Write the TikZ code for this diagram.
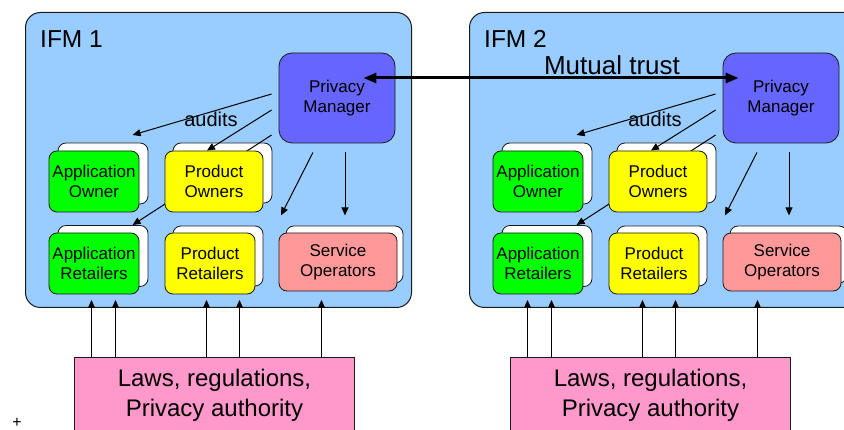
\documentclass[tikz,border=0pt]{standalone}
\usepackage{fontspec}
\setmainfont{Liberation Sans}
\usetikzlibrary{arrows.meta}
\definecolor{ifmblue}{HTML}{99CCFF}
\definecolor{pmblue}{HTML}{6666FF}
\definecolor{grn}{HTML}{00FF00}
\definecolor{ylw}{HTML}{FFFF00}
\definecolor{salmon}{HTML}{FF9999}
\definecolor{lawpink}{HTML}{FF99CC}
\definecolor{edge}{HTML}{1A1A1A}
\pgfdeclarelayer{ifmlayer}
\pgfdeclarelayer{backlayer}
\pgfdeclarelayer{frontlayer}
\pgfdeclarelayer{toplayer}
\pgfsetlayers{ifmlayer,backlayer,main,frontlayer,toplayer}
\tikzset{
  ifmbox/.style={draw=edge, line width=1pt, fill=ifmblue, rounded corners=15pt, inner sep=0pt},
  card/.style={draw=edge, line width=0.8pt, rounded corners=8pt, align=center, inner sep=0pt,
    font=\fontsize{17}{19.5}\selectfont},
  backcard/.style={card, fill=white},
  pmbox/.style={card, fill=pmblue, rounded corners=13pt},
  lawbox/.style={draw=edge, line width=1pt, fill=lawpink, align=center, inner sep=0pt,
    font=\fontsize{24}{29.5}\selectfont},
  arr/.style={draw=black, line width=1pt, -{Triangle[length=8pt,width=7pt]}},
  trustarr/.style={draw=black, line width=3pt, {Triangle[length=13pt,width=10pt]}-{Triangle[length=13pt,width=10pt]}},
  biglabel/.style={inner sep=0pt, font=\fontsize{24.5}{28}\selectfont},
  auditlabel/.style={inner sep=0pt, font=\fontsize{20}{24}\selectfont},
}
\begin{document}
\begin{tikzpicture}[x=1pt, y=-1pt]
\useasboundingbox (0,0) rectangle (844,430);
\begin{pgfonlayer}{ifmlayer}
  \fill[white] (0,0) rectangle (844,430);
\end{pgfonlayer}
\foreach \i/\dx/\w in {1/0/386, 2/444/420}{
\begin{scope}[xshift=\dx]
  \begin{pgfonlayer}{ifmlayer}
    \node[ifmbox, minimum width=\w, minimum height=295, anchor=north west] (ifm\i) at (25,12) {};
    \node[biglabel, anchor=base west] (ifml\i) at (40,48) {IFM \i};
  \end{pgfonlayer}
  \begin{pgfonlayer}{backlayer}
    \node[backcard, minimum width=90, minimum height=61] (aob\i) at (103,173.5) {};
    \node[backcard, minimum width=99, minimum height=60] (pob\i) at (222.5,173) {};
    \node[backcard, minimum width=90, minimum height=61] (arb\i) at (103,256) {};
    \node[backcard, minimum width=90, minimum height=60] (prb\i) at (218,256) {};
    \node[backcard, minimum width=117, minimum height=57] (sob\i) at (344.5,254.5) {};
  \end{pgfonlayer}
  \begin{pgfonlayer}{frontlayer}
    \node[card, fill=grn, minimum width=90, minimum height=61] (ao\i) at (94,181.5) {Application\\Owner};
    \node[card, fill=ylw, minimum width=98, minimum height=61] (po\i) at (214,181.5) {Product\\Owners};
    \node[card, fill=grn, minimum width=90, minimum height=61] (ar\i) at (94,263.5) {Application\\Retailers};
    \node[card, fill=ylw, minimum width=90, minimum height=61] (pr\i) at (210,263.5) {Product\\Retailers};
    \node[card, fill=salmon, minimum width=118, minimum height=58] (so\i) at (338,262) {Service\\Operators};
    \node[pmbox, minimum width=116, minimum height=90] (pm\i) at (337,98) {Privacy\\Manager};
  \end{pgfonlayer}
  \node[auditlabel, anchor=base] (aud\i) at (211,127) {audits};
  \draw[arr] ([shift={(-7,-4)}]pm\i.west) -- ++(-139,41);
  \draw[arr] ([shift={(-7,12)}]pm\i.west) -- ([xshift=-7pt]po\i.north);
  \draw[arr] ([shift={(-7,37)}]pm\i.west) -- ++(-139,90);
  \draw[arr] ([shift={(-24,9)}]pm\i.south) -- ++(-32,63);
  \draw[arr] ([shift={(8,9)}]pm\i.south) -- ++(0,63);
\end{scope}
}
\foreach \i/\dl in {1/0, 2/436}{
\begin{scope}[xshift=\dl]
  \node[lawbox, minimum width=280, minimum height=76, anchor=north west] (law\i) at (74,357)
    {Laws, regulations,\\Privacy authority};
  \foreach \o in {-123,-99,-8,25,107}{
    \draw[arr] ([xshift=\o pt]law\i.north) -- ++(0,-57);
  }
\end{scope}
}
\begin{pgfonlayer}{toplayer}
  \node[inner sep=0pt, font=\fontsize{26}{30}\selectfont, anchor=base] (trust) at (612,75) {Mutual trust};
  \draw[trustarr] ([shift={(-32,-20)}]pm1.east) -- ([shift={(16,-20)}]pm2.west);
\end{pgfonlayer}
\node[inner sep=0pt, font=\fontsize{16}{18}\selectfont] (plus) at (17,423) {+};
\end{tikzpicture}
\end{document}
